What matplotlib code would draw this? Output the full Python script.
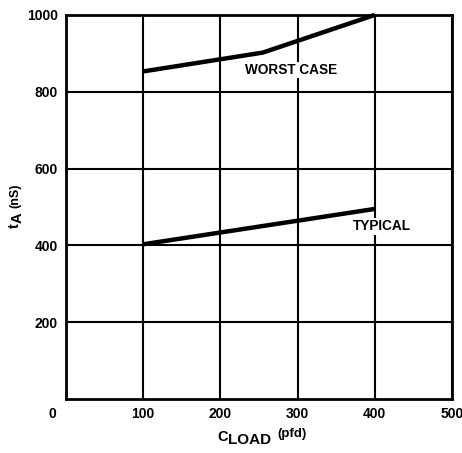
import matplotlib
matplotlib.use("Agg")
import matplotlib.pyplot as plt
import matplotlib.transforms as mtrans

plt.rcParams['font.family'] = ['Liberation Sans', 'DejaVu Sans']
plt.rcParams['font.weight'] = 'bold'

# access time vs load capacitance
worstX = [100, 255, 400]
worstY = [853, 902, 1000]
typX = [100, 400]
typY = [403, 495]

xTicks = [0, 100, 200, 300, 400, 500]
yTicks = [200, 400, 600, 800, 1000]

fig = plt.figure(figsize=(4.62, 4.53), dpi=100)
ax = fig.add_axes([0.143, 0.119, 0.835, 0.848])

ax.plot(worstX, worstY, color="black", linewidth=3.2, solid_capstyle="butt", zorder=3, clip_on=False)
ax.plot(typX, typY, color="black", linewidth=3.2, solid_capstyle="butt", zorder=3)

ax.text(291, 857, "WORST CASE", ha="center", va="center", fontsize=9.8,
        bbox=dict(facecolor="white", edgecolor="none", pad=1), zorder=4)
ax.text(409, 450, "TYPICAL", ha="center", va="center", fontsize=9.8,
        bbox=dict(facecolor="white", edgecolor="none", pad=1), zorder=4)

ax.set_xlim(0, 500)
ax.set_ylim(0, 1000)
ax.set_xticks(xTicks)
ax.set_yticks(yTicks)
ax.tick_params(length=0, labelsize=10, pad=6)
ax.grid(color="black", linewidth=1.5)
ax.set_axisbelow(True)
for s in ax.spines.values():
    s.set_linewidth(2)

# the "0" sits at the corner, left of the axis
lbl0 = ax.get_xticklabels()[0]
lbl0.set_transform(lbl0.get_transform() + mtrans.ScaledTranslation(-0.14, 0, fig.dpi_scale_trans))

# x label: C with LOAD lowered, (pfd) small and raised
c = fig.text(217 / 462, (453 - 444) / 453, "C", fontsize=10.5, ha="left", va="bottom")
load = ax.annotate("LOAD", xy=(1, 0), xycoords=c, xytext=(0.5, -2.5), textcoords="offset points",
                   fontsize=11, ha="left", va="bottom")
ax.annotate("(pfd)", xy=(1, 1), xycoords=load, xytext=(4, 4), textcoords="offset points",
            fontsize=9.5, ha="left", va="top")

# y label: t with A lowered, (nS)
t = fig.text(15 / 462, (453 - 228) / 453, "t", fontsize=10.5, rotation=90, ha="center", va="bottom")
a = ax.annotate("A", xy=(0.5, 1), xycoords=t, xytext=(2, 0), textcoords="offset points",
                fontsize=10.5, rotation=90, ha="center", va="bottom")
ax.annotate("(nS)", xy=(0.5, 1), xycoords=a, xytext=(-2, 3), textcoords="offset points",
            fontsize=9, rotation=90, ha="center", va="bottom")

fig.savefig("out.png", dpi=100)
